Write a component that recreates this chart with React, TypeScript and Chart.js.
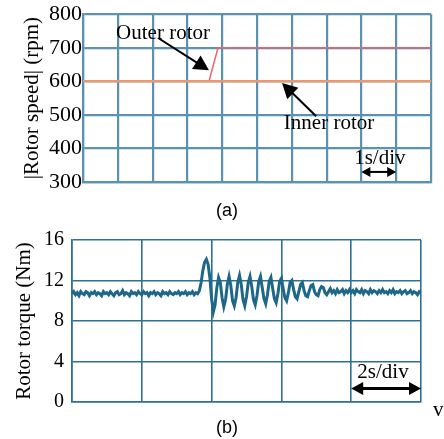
import React, { useEffect, useRef } from "react";
import { Chart, registerables } from "chart.js";

Chart.register(...registerables);

// ---------- data: top chart (rotor speed) ----------
const speedTicks = [300, 400, 500, 600, 700, 800];
const outerTime = [0, 3.62, 3.88, 10];
const outerSpeed = [600, 600, 700, 700];
const innerTime = [0, 10];
const innerSpeed = [600, 600];

// ---------- data: bottom chart (rotor torque), sampled every 0.05 s from 0 to 10 s ----------
const torqueTicks = [0, 4, 8, 12, 16];
const torqueStep = 0.05;
const torqueValues = [
  10.7, 10.9, 10.6, 10.8, 10.5, 10.9, 10.7, 10.6, 10.9, 10.8, 10.5, 10.8, 10.7, 10.9, 10.6, 10.8, 10.7, 10.5, 10.9, 10.7,
  10.8, 10.6, 10.9, 10.7, 10.5, 10.8, 10.9, 10.6, 10.7, 11.0, 10.6, 10.8, 10.7, 10.5, 10.9, 10.7, 10.8, 10.6, 10.9, 10.7,
  10.6, 10.9, 10.7, 10.8, 10.5, 10.8, 10.7, 10.9, 10.6, 10.8, 10.7, 10.5, 10.9, 10.7, 10.8, 10.6, 10.9, 10.7, 10.6, 10.8,
  10.7, 10.9, 10.6, 10.8, 10.7, 10.9, 10.6, 10.8, 10.7, 10.9, 10.6, 10.8, 10.7, 11.0, 11.8, 13.0, 13.8, 14.1, 13.6, 12.3,
  10.2, 8.9, 9.6, 11.3, 12.3, 11.8, 10.3, 9.4, 10.1, 11.6, 12.4, 11.5, 10.0, 9.5, 10.3, 11.8, 12.5, 11.6, 10.1, 9.5,
  10.4, 11.8, 12.4, 11.4, 10.1, 9.6, 10.5, 11.9, 12.4, 11.3, 10.2, 9.7, 10.6, 11.9, 12.3, 11.2, 10.2, 9.8, 10.7, 11.9,
  12.2, 11.2, 10.3, 10.0, 10.8, 11.8, 12.0, 11.1, 10.4, 10.2, 10.9, 11.6, 11.8, 11.0, 10.5, 10.4, 11.0, 11.5, 11.6, 10.9,
  10.6, 10.5, 11.1, 11.4, 11.3, 10.8, 10.6, 10.9, 11.2, 10.8, 11.0, 10.7, 11.1, 10.8, 10.9, 11.1, 10.7, 11.0, 10.8, 11.1,
  10.8, 11.0, 10.7, 11.1, 10.9, 10.8, 11.1, 10.7, 11.0, 10.9, 10.7, 11.1, 10.8, 11.0, 10.9, 10.7, 11.0, 10.8, 11.1, 10.8,
  10.9, 10.7, 11.0, 10.8, 11.1, 10.7, 10.9, 10.8, 11.0, 10.7, 10.9, 11.0, 10.7, 10.8, 11.0, 10.7, 10.9, 10.8, 10.6, 10.9, 10.8,
];

// ---------- annotations (in data coordinates) ----------
const speedLabels = [
  { text: "Outer rotor", t: 2.3, v: 743 },
  { text: "Inner rotor", t: 7.07, v: 473 },
  { text: "1s/div", t: 8.53, v: 371 },
];
const speedArrows = [
  { t1: 2.16, v1: 729, t2: 3.62, v2: 633, both: false },
  { t1: 6.7, v1: 496, t2: 5.72, v2: 595, both: false },
  { t1: 8.0, v1: 330, t2: 9.0, v2: 330, both: true },
];
const torqueLabels = [{ text: "2s/div", t: 8.91, v: 2.87 }];
const torqueArrows = [{ t1: 8.0, v1: 1.34, t2: 10.0, v2: 1.34, both: true }];

const SERIF = "'Liberation Serif', 'Times New Roman', serif";
const GRID_TOP = "#5a92b0";
const GRID_BOT = "#2e7192";

function head(ctx: CanvasRenderingContext2D, x1: number, y1: number, x2: number, y2: number, len: number, half: number) {
  const a = Math.atan2(y2 - y1, x2 - x1);
  const bx = x2 - len * Math.cos(a);
  const by = y2 - len * Math.sin(a);
  ctx.beginPath();
  ctx.moveTo(x2, y2);
  ctx.lineTo(bx + half * Math.sin(a), by - half * Math.cos(a));
  ctx.lineTo(bx - half * Math.sin(a), by + half * Math.cos(a));
  ctx.closePath();
  ctx.fill();
}

function makeNotes(labels: any[], arrows: any[], opts: { lw: number; len: number; half: number; blen: number; bhalf: number }) {
  return {
    id: "notes",
    afterDatasetsDraw(chart: any) {
      const ctx = chart.ctx as CanvasRenderingContext2D;
      const xs = chart.scales.x;
      const ys = chart.scales.y;
      ctx.save();
      ctx.fillStyle = "#000";
      ctx.strokeStyle = "#000";
      ctx.font = `21px ${SERIF}`;
      ctx.textAlign = "center";
      ctx.textBaseline = "middle";
      for (const l of labels) {
        const x = xs.getPixelForValue(l.t);
        const y = ys.getPixelForValue(l.v);
        ctx.fillText(l.text, x, y);
      }
      for (const a of arrows) {
        const x1 = xs.getPixelForValue(a.t1);
        const y1 = ys.getPixelForValue(a.v1);
        const x2 = xs.getPixelForValue(a.t2);
        const y2 = ys.getPixelForValue(a.v2);
        const len = a.both ? opts.blen : opts.len;
        const half = a.both ? opts.bhalf : opts.half;
        const ang = Math.atan2(y2 - y1, x2 - x1);
        ctx.lineWidth = opts.lw;
        ctx.beginPath();
        const sx = a.both ? x1 + (len - 2) * Math.cos(ang) : x1;
        const sy = a.both ? y1 + (len - 2) * Math.sin(ang) : y1;
        ctx.moveTo(sx, sy);
        ctx.lineTo(x2 - (len - 2) * Math.cos(ang), y2 - (len - 2) * Math.sin(ang));
        ctx.stroke();
        head(ctx, x1, y1, x2, y2, len, half);
        if (a.both) head(ctx, x2, y2, x1, y1, len, half);
      }
      ctx.restore();
    },
  };
}

function SpeedChart() {
  const ref = useRef<HTMLCanvasElement>(null);
  useEffect(() => {
    const chart = new Chart(ref.current!, {
      type: "line",
      data: {
        datasets: [
          {
            label: "Inner rotor",
            data: innerTime.map((t, i) => ({ x: t, y: innerSpeed[i] })),
            borderColor: "#e99872",
            borderWidth: 2.5,
            pointRadius: 0,
            tension: 0,
          },
          {
            label: "Outer rotor",
            data: outerTime.map((t, i) => ({ x: t, y: outerSpeed[i] })),
            borderColor: "#f2616b",
            borderWidth: 1.5,
            pointRadius: 0,
            tension: 0,
          },
        ],
      },
      options: {
        responsive: false,
        animation: false,
        events: [],
        layout: { padding: { left: 0, right: 13, top: 14, bottom: 18 } },
        plugins: { legend: { display: false }, tooltip: { enabled: false } },
        scales: {
          x: {
            type: "linear",
            min: 0,
            max: 10,
            ticks: { display: false, stepSize: 1 },
            grid: { color: GRID_TOP, lineWidth: 2.2, drawTicks: false },
            border: { color: GRID_TOP, width: 2.2 },
            afterFit: (s: any) => {
              s.height = 0;
            },
          },
          y: {
            type: "linear",
            min: speedTicks[0],
            max: speedTicks[speedTicks.length - 1],
            afterBuildTicks: (s: any) => {
              s.ticks = speedTicks.map((v) => ({ value: v }));
            },
            ticks: { color: "#000", font: { family: SERIF, size: 22 }, padding: 1 },
            grid: { color: GRID_TOP, lineWidth: 2.2, drawTicks: false },
            border: { color: GRID_TOP, width: 2.2 },
            title: {
              display: true,
              text: "|Rotor speed| (rpm)",
              color: "#000",
              font: { family: SERIF, size: 21 },
              padding: { top: 20, bottom: 0 },
            },
            afterFit: (s: any) => {
              s.width = 83;
            },
          },
        },
      },
      plugins: [makeNotes(speedLabels, speedArrows, { lw: 2, len: 15, half: 8, blen: 9, bhalf: 5 })],
    } as any);
    return () => chart.destroy();
  }, []);
  return <canvas ref={ref} width={444} height={200} style={{ position: "absolute", left: 0, top: 0 }} />;
}

function TorqueChart() {
  const ref = useRef<HTMLCanvasElement>(null);
  useEffect(() => {
    const chart = new Chart(ref.current!, {
      type: "line",
      data: {
        datasets: [
          {
            label: "Rotor torque",
            data: torqueValues.map((v, i) => ({ x: i * torqueStep, y: v })),
            borderColor: "#1f6788",
            borderWidth: 3,
            pointRadius: 0,
            tension: 0,
          },
        ],
      },
      options: {
        responsive: false,
        animation: false,
        events: [],
        layout: { padding: { left: 0, right: 23, top: 15, bottom: 37 } },
        plugins: { legend: { display: false }, tooltip: { enabled: false } },
        scales: {
          x: {
            type: "linear",
            min: 0,
            max: 10,
            ticks: { display: false, stepSize: 2 },
            grid: { color: GRID_BOT, lineWidth: 1.6, drawTicks: false },
            border: { color: GRID_BOT, width: 1.6 },
            afterFit: (s: any) => {
              s.height = 0;
            },
          },
          y: {
            type: "linear",
            min: torqueTicks[0],
            max: torqueTicks[torqueTicks.length - 1],
            afterBuildTicks: (s: any) => {
              s.ticks = torqueTicks.map((v) => ({ value: v }));
            },
            ticks: { color: "#000", font: { family: SERIF, size: 20 }, padding: 8 },
            grid: { color: GRID_BOT, lineWidth: 1.6, drawTicks: false },
            border: { color: GRID_BOT, width: 1.6 },
            title: {
              display: true,
              text: "Rotor torque (Nm)",
              color: "#000",
              font: { family: SERIF, size: 21 },
              padding: { top: 12, bottom: 0 },
            },
            afterFit: (s: any) => {
              s.width = 72;
            },
          },
        },
      },
      plugins: [makeNotes(torqueLabels, torqueArrows, { lw: 3, len: 12, half: 6, blen: 12, bhalf: 6.5 })],
    } as any);
    return () => chart.destroy();
  }, []);
  return <canvas ref={ref} width={444} height={219} style={{ position: "absolute", left: 0, top: 220 }} />;
}

const capStyle: React.CSSProperties = {
  position: "absolute",
  fontFamily: "'Liberation Sans', Arial, sans-serif",
  fontSize: 18,
  lineHeight: "22px",
  width: 40,
  textAlign: "center",
  color: "#000",
};

export default function App() {
  return (
    <div style={{ position: "absolute", left: 0, top: 0, width: 444, height: 439, background: "#fff", overflow: "hidden" }}>
      <SpeedChart />
      <TorqueChart />
      <div style={{ ...capStyle, left: 207, top: 199 }}>(a)</div>
      <div style={{ ...capStyle, left: 207, top: 416 }}>(b)</div>
      <div style={{ position: "absolute", left: 433, top: 397, fontFamily: SERIF, fontSize: 21, lineHeight: "24px" }}>v</div>
    </div>
  );
}
